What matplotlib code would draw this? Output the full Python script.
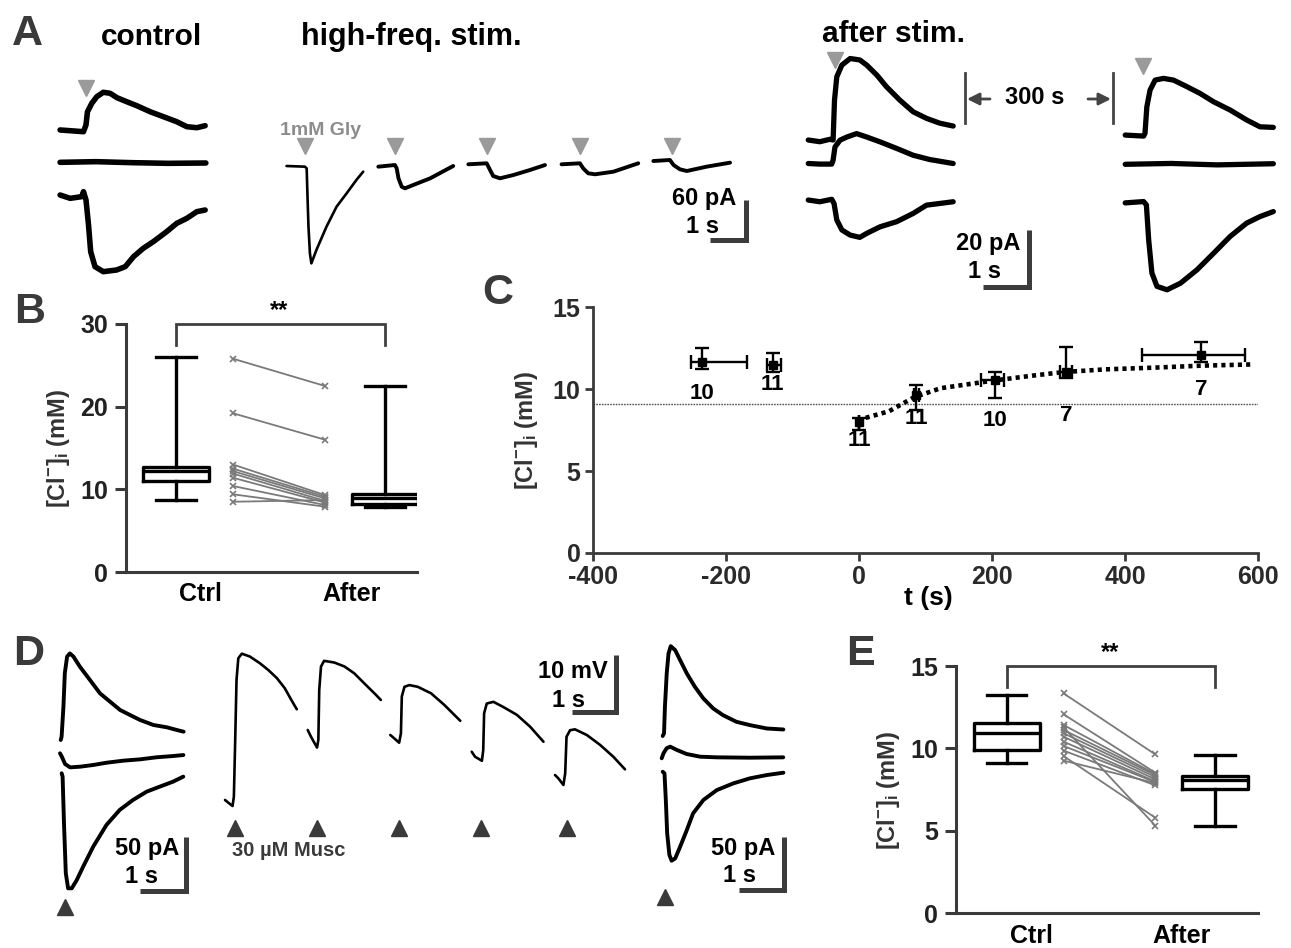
import numpy as np
import matplotlib
matplotlib.use("Agg")
import matplotlib.pyplot as plt
from matplotlib.transforms import Affine2D

W, H = 1291, 948
plt.rcParams['font.family'] = ['Liberation Sans', 'DejaVu Sans']
plt.rcParams['font.weight'] = 'bold'
plt.rcParams['mathtext.fontset'] = 'custom'
plt.rcParams['mathtext.rm'] = 'Liberation Sans:bold'
plt.rcParams['mathtext.bf'] = 'Liberation Sans:bold'
plt.rcParams['mathtext.default'] = 'rm'
plt.rcParams['axes.unicode_minus'] = False
NARROW = ['Liberation Sans Narrow', 'Liberation Sans', 'DejaVu Sans']

# ======================= DATA =======================
# ---- Panel A: control (t in s, I in pA relative to baseline)
ctl_top_t = [0, 0.65, 0.72, 0.76, 0.88, 1.02, 1.2, 1.39, 1.58, 1.85, 2.13, 2.5, 2.87, 3.24, 3.52, 3.8, 4.03]
ctl_top_i = [0.8, -1.8, 8.3, 28, 40.7, 50.7, 57.3, 55.8, 49.2, 43.2, 37.2, 28.2, 20.7, 13.2, 5.7, 4.2, 7.2]
ctl_mid_t = [0, 1.0, 2.0, 3.0, 4.05]
ctl_mid_i = [0, 1.0, -0.5, -1.5, -1.0]
ctl_bot_t = [0, 0.28, 0.6, 0.65, 0.72, 0.79, 0.85, 0.97, 1.2, 1.57, 1.81, 2.04, 2.31, 2.59, 2.96, 3.24, 3.52, 3.8, 4.03]
ctl_bot_i = [1.5, -3.5, -1, 6.5, -6, -43.5, -83.5, -106, -113.5, -111, -106, -91, -78.5, -68.5, -53.5, -41, -33.5, -23.5, -21]
ctl_stim = 0.71

# ---- Panel A: high-frequency glycine stimulation (5 sweeps)
hf_t = [[0, 0.51, 0.56, 0.58, 0.61, 0.65, 0.69, 0.83, 1.11, 1.39, 1.67, 1.94, 2.13],
        [0, 0.46, 0.51, 0.56, 0.65, 0.74, 0.97, 1.44, 2.08],
        [0, 0.51, 0.58, 0.69, 0.88, 1.25, 1.71, 2.13],
        [0, 0.51, 0.6, 0.74, 0.93, 1.44, 2.13],
        [0, 0.46, 0.56, 0.74, 0.93, 1.48, 2.13]]
hf_i = [[0, -1, -3.5, -41, -91, -131, -146, -126, -91, -61, -41, -21, -8.5],
        [-1, 1.5, -3.5, -18.5, -31, -33.5, -28.5, -18.5, 0],
        [0.3, 1.8, -5.7, -17.3, -20.7, -15.8, -8.3, -0.8],
        [0.3, 1.8, -5.7, -13.2, -14.7, -10.8, 1.8],
        [0, 1.5, -6, -12.5, -15, -8.5, -2.5]]
hf_stim = [0.51, 0.47, 0.52, 0.52, 0.51]

# ---- Panel A: after stimulation (pA)
aft1_top_t = [0, 0.25, 0.47, 0.54, 0.57, 0.62, 0.73, 0.91, 1.12, 1.27, 1.49, 1.7, 1.99, 2.28, 2.57, 2.86, 3.15]
aft1_top_i = [0, -0.6, 0.25, 0, 14, 22.2, 26.3, 28.6, 28.1, 26.3, 22.8, 18.7, 14, 9.9, 7.6, 5.9, 4.9]
aft1_mid_t = [0, 0.25, 0.51, 0.54, 0.58, 0.69, 0.84, 1.05, 1.27, 1.56, 1.92, 2.28, 2.64, 3.15]
aft1_mid_i = [0, -0.2, -0.2, 1.2, 5.8, 8.2, 9.3, 10.5, 9.3, 7.6, 5.3, 2.9, 1.4, 0]
aft1_bot_t = [0, 0.25, 0.51, 0.56, 0.62, 0.73, 0.91, 1.12, 1.27, 1.56, 1.92, 2.28, 2.57, 2.86, 3.15]
aft1_bot_i = [0, -0.6, 0.25, -1.2, -7, -10.5, -12.3, -13.1, -11.7, -9.4, -7.6, -4.7, -1.8, -1.2, -0.6]
aft2_top_t = [0, 0.4, 0.43, 0.47, 0.54, 0.65, 0.83, 1.05, 1.34, 1.63, 1.92, 2.28, 2.64, 2.93, 3.22]
aft2_top_i = [0, -0.35, 0.6, 9.9, 15.8, 19.3, 19.9, 19.3, 17.0, 14.6, 11.7, 8.8, 5.3, 2.9, 2.7]
aft2_mid_t = [0, 1.0, 2.0, 3.22]
aft2_mid_i = [0, 0.3, -0.2, 0.2]
aft2_bot_t = [0, 0.4, 0.46, 0.51, 0.58, 0.69, 0.91, 1.2, 1.56, 1.92, 2.28, 2.64, 2.93, 3.22]
aft2_bot_i = [0, 0.46, -0.7, -13, -24.6, -29.3, -30.5, -28.2, -23.5, -17.7, -11.8, -7.1, -4.8, -3.05]
aft_stim = [0.57, 0.38]

# ---- Panel B: [Cl-]i (mM)
B_stats = [dict(whislo=8.72, q1=10.98, med=12.27, q3=12.76, whishi=25.96),
           dict(whislo=7.83, q1=8.2, med=8.9, q3=9.4, whishi=22.5)]
B_ctrl_pts = [25.8, 19.2, 13.0, 12.5, 12.2, 11.9, 11.4, 10.4, 9.4, 8.5]
B_after_pts = [22.5, 16.0, 9.3, 9.1, 8.9, 8.6, 8.4, 8.1, 7.9, 8.7]
group_labels = ['Ctrl', 'After']

# ---- Panel C: time course
C_t = [-236, -130, 0, 86, 204, 311, 514]
C_y = [11.63, 11.47, 7.97, 9.65, 10.52, 11.06, 12.07]
C_ylow = [11.22, 11.02, 7.53, 8.74, 9.45, 10.66, 11.63]
C_yhigh = [12.52, 12.17, 8.24, 10.26, 11.02, 12.58, 12.88]
C_tlow = [-252, -139, 0, 82, 183, 302, 425]
C_thigh = [-168, -118, 0, 90, 218, 320, 580]
C_n = [10, 11, 11, 11, 10, 7, 7]
C_n_y = [9.75, 10.3, 6.86, 8.2, 8.08, 8.4, 10.0]
C_fit_t = [10, 45, 83, 123, 200, 258, 307, 371, 442, 513, 594]
C_fit_y = [8.24, 8.64, 9.5, 10.05, 10.5, 10.8, 11.03, 11.2, 11.3, 11.42, 11.5]
C_ref = 9.1

# ---- Panel D: muscimol (pA and mV)
dl_top_t = [0, 0.02, 0.06, 0.09, 0.14, 0.2, 0.28, 0.42, 0.64, 0.86, 1.08, 1.3, 1.52, 1.74, 2.03, 2.32, 2.54, 2.69]
dl_top_i = [0, 3.1, 30.9, 61.8, 77.2, 80.2, 77.2, 67.9, 55.6, 43.2, 35.5, 27.8, 23.1, 18.5, 13.9, 11.8, 9.3, 7.7]
dl_mid_t = [0, 0.04, 0.11, 0.22, 0.44, 0.73, 1.02, 1.39, 1.75, 2.11, 2.48, 2.7]
dl_mid_i = [0, -3.1, -9.9, -13, -12.4, -10.8, -8.7, -6.8, -5.6, -3.7, -2.5, -1.6]
dl_bot_t = [0, 0.02, 0.05, 0.09, 0.14, 0.22, 0.33, 0.47, 0.69, 0.98, 1.27, 1.56, 1.86, 2.15, 2.44, 2.66]
dl_bot_i = [0, -3.1, -46.3, -92.6, -106.5, -106.5, -98.8, -86.4, -67.9, -47.8, -33.9, -24.7, -17, -12.3, -7.7, -3.1]
dm_t = [[0, 0.075, 0.17, 0.2, 0.23, 0.26, 0.3, 0.38, 0.56, 0.79, 0.98, 1.17, 1.35, 1.5, 1.62],
        [0, 0.075, 0.21, 0.24, 0.26, 0.3, 0.37, 0.6, 0.83, 1.05, 1.28, 1.54, 1.65],
        [0, 0.09, 0.2, 0.24, 0.26, 0.32, 0.43, 0.62, 0.92, 1.22, 1.58],
        [0, 0.075, 0.23, 0.26, 0.28, 0.34, 0.49, 0.71, 1.02, 1.32, 1.62],
        [0, 0.075, 0.19, 0.23, 0.26, 0.34, 0.45, 0.72, 1.02, 1.32, 1.58]]
dm_v = [[0, -0.48, -1.06, 0.58, 10.6, 21.2, 25.0, 25.8, 25.3, 24.1, 22.9, 21.5, 19.7, 17.6, 16.0],
        [0, -1.2, -3.1, -1.76, 7.05, 11.2, 12.2, 11.9, 11.2, 10.0, 8.2, 6.2, 5.3],
        [0, -0.6, -1.36, 0.3, 6.8, 8.5, 8.8, 8.5, 7.35, 5.3, 2.5],
        [0, -0.88, -1.6, 0.3, 6.8, 8.5, 8.8, 7.9, 6.5, 4.4, 1.76],
        [0, -0.58, -1.76, 0.3, 6.75, 7.9, 8.06, 7.05, 5.3, 3.2, 1.0]]
dm_stim = [0.225, 0.216, 0.203, 0.21, 0.264]
dr_top_t = [0, 0.03, 0.05, 0.09, 0.13, 0.18, 0.28, 0.39, 0.54, 0.72, 0.91, 1.13, 1.35, 1.65, 1.95, 2.33, 2.7]
dr_top_i = [0, 2.5, 27.4, 58.6, 77.3, 84.2, 80.4, 71.1, 58.6, 46.1, 35.2, 25.8, 19.5, 13.3, 10.2, 7.03, 6.1]
dr_mid_t = [0, 0.04, 0.11, 0.19, 0.34, 0.56, 0.86, 1.23, 1.97, 2.72]
dr_mid_i = [0, 4.7, 9.4, 10.9, 7.8, 4.0, 1.5, 0.9, 0.56, 0.9]
dr_bot_t = [0, 0.04, 0.07, 0.1, 0.15, 0.2, 0.28, 0.39, 0.54, 0.68, 0.91, 1.21, 1.58, 1.95, 2.33, 2.7]
dr_bot_i = [0, -1.5, -26.5, -57.7, -78, -83.4, -81.2, -70.3, -54.6, -39, -26.5, -17.2, -10.9, -6.2, -3.1, -0.9]
d_stim = [0.07, 0.05]

# ---- Panel E: [Cl-]i (mM)
E_stats = [dict(whislo=9.14, q1=9.9, med=10.96, q3=11.56, whishi=13.24),
           dict(whislo=5.3, q1=7.56, med=8.09, q3=8.35, whishi=9.6)]
E_ctrl_pts = [13.34, 12.07, 11.42, 11.28, 11.12, 10.92, 10.71, 10.41, 10.15, 9.87, 9.54, 9.26]
E_after_pts = [9.64, 8.53, 8.45, 5.32, 8.39, 8.27, 8.13, 8.0, 7.96, 7.76, 5.8, 7.9]

# ======================= FIGURE =======================
fig = plt.figure(figsize=(W / 100, H / 100), dpi=100)
PIX = Affine2D().scale(1.0 / W, -1.0 / H).translate(0, 1) + fig.transFigure
SB = '#3c3c3c'
GRAYTRI = '#9a9a9a'
DARK = '#3a3a3a'


def rect(l, t, r, b):
    return [l / W, 1 - b / H, (r - l) / W, (b - t) / H]


def ftext(x, y, s, **kw):
    return fig.text(x, y, s, transform=PIX, **kw)


def trace_axes(l, t, r, b, pxx, pxy, zero):
    ax = fig.add_axes(rect(l, t, r, b))
    ax.set_xlim(0, (r - l) / pxx)
    ax.set_ylim(-(b - zero) / pxy, (zero - t) / pxy)
    ax.set_axis_off()
    return ax


def trace(ax, t, y, t0, y0, lw):
    ax.plot(np.asarray(t) + t0, np.asarray(y) + y0, color='k', lw=lw,
            solid_joinstyle='round', solid_capstyle='round', clip_on=False)


def scalebar(ax, x, y, dx, dy, lw=3.6):
    ax.plot([x - dx, x, x], [y, y, y + dy], color=SB, lw=lw,
            solid_joinstyle='miter', solid_capstyle='butt', clip_on=False)


# ---------- Panel A, left group (control + high-freq) ----------
aA = trace_axes(50, 80, 760, 290, 36.0, 1 / 1.5, 165)
c0 = 0.28
trace(aA, ctl_top_t, ctl_top_i, c0, 51.75, 4.0)
trace(aA, ctl_mid_t, ctl_mid_i, c0, 4.0, 4.0)
trace(aA, ctl_bot_t, ctl_bot_i, c0, -46.5, 4.0)
aA.plot([c0 + ctl_stim], [116], marker='v', ms=11, color=GRAYTRI, ls='none', clip_on=False)
hf_start = [6.57, 9.12, 11.62, 14.21, 16.76]
hf_off = [-1.5, -1.5, 0.75, 0.75, 6.0]
for k in range(5):
    trace(aA, hf_t[k], hf_i[k], hf_start[k], hf_off[k], 1.9 if k == 0 else 2.8)
    aA.plot([hf_start[k] + hf_stim[k]], [29], marker='v', ms=11, color=GRAYTRI,
            ls='none', clip_on=False)
scalebar(aA, 19.33, -112.5, 1.0, 60.0)
ftext(361, 135, '1mM Gly', ha='right', va='baseline', fontsize=14, color='#8c8c8c')
ftext(736, 205, '60 pA', ha='right', va='baseline', fontsize=17)
ftext(719, 233, '1 s', ha='right', va='baseline', fontsize=17)

# ---------- Panel A, after stimulation ----------
aA2 = trace_axes(800, 40, 1285, 300, 46.0, 1 / 0.351, 163)
s1, s2 = 0.18, 7.07
trace(aA2, aft1_top_t, aft1_top_i, s1, 8.07, 3.8)
trace(aA2, aft1_mid_t, aft1_mid_i, s1, -0.18, 3.8)
trace(aA2, aft1_bot_t, aft1_bot_i, s1, -13.0, 3.8)
trace(aA2, aft2_top_t, aft2_top_i, s2, 9.8, 3.8)
trace(aA2, aft2_mid_t, aft2_mid_i, s2, -0.46, 3.8)
trace(aA2, aft2_bot_t, aft2_bot_i, s2, -14.0, 3.8)
aA2.plot([s1 + aft_stim[0], s2 + aft_stim[1]], [36.3, 34.0], marker='v', ms=11,
         color=GRAYTRI, ls='none', clip_on=False)
scalebar(aA2, 4.978, -43.5, 1.0, 20.0)
ftext(1020, 250, '20 pA', ha='right', va='baseline', fontsize=17)
ftext(1001, 278, '1 s', ha='right', va='baseline', fontsize=17)
# 300 s interval marker
for xv in (965, 1113):
    fig.add_artist(plt.Line2D([xv / W, xv / W], [1 - 73 / H, 1 - 123 / H], color='#444444', lw=2))
fig.add_artist(matplotlib.patches.FancyArrowPatch((990 / W, 1 - 99 / H), (967 / W, 1 - 99 / H),
               arrowstyle='-|>', mutation_scale=18, color='#444444', lw=2,
               transform=fig.transFigure, shrinkA=0, shrinkB=0))
fig.add_artist(matplotlib.patches.FancyArrowPatch((1088 / W, 1 - 99 / H), (1111 / W, 1 - 99 / H),
               arrowstyle='-|>', mutation_scale=18, color='#444444', lw=2,
               transform=fig.transFigure, shrinkA=0, shrinkB=0))
ftext(1035, 104, '300 s', ha='center', va='baseline', fontsize=17)

# titles and panel letters
ftext(151, 45, 'control', ha='center', va='baseline', fontsize=21.5)
ftext(411, 45, 'high-freq. stim.', ha='center', va='baseline', fontsize=22)
ftext(894, 42, 'after stim.', ha='center', va='baseline', fontsize=21.5)
for lab, x, y in [('A', 27, 45), ('B', 30, 323), ('C', 498, 304), ('D', 29, 665), ('E', 860, 665)]:
    ftext(x, y, lab, ha='center', va='baseline', fontsize=31, color=DARK)

YLAB = r'[Cl$^{-}$]$_{\mathrm{i}}$ (mM)'


# ---------- Panels B and E ----------
def stat_panel(l, t, r, b, xlim, ylim, yticks, stats, cpts, apts, br_low, star_y):
    ax = fig.add_axes(rect(l, t, r, b))
    ax.patch.set_visible(False)
    ax.bxp(stats, positions=[0, 1], widths=0.316, capwidths=[0.19, 0.19], showfliers=False,
           boxprops=dict(color='k', lw=2.4), whiskerprops=dict(color='k', lw=2.4),
           capprops=dict(color='k', lw=2.4), medianprops=dict(color='k', lw=2.4),
           manage_ticks=False)
    for c, a in zip(cpts, apts):
        ax.plot([0.273, 0.713], [c, a], color='#7a7a7a', lw=1.3, marker='x', ms=5, mew=1.2)
    ax.plot([0, 0, 1, 1], [br_low, ylim[1], ylim[1], br_low], color='#404040', lw=2.0,
            clip_on=False, solid_joinstyle='miter')
    ax.text(0.495, star_y, '**', ha='center', va='center', fontsize=17)
    ax.set_xlim(*xlim)
    ax.set_ylim(*ylim)
    for s in ('top', 'right'):
        ax.spines[s].set_visible(False)
    for s in ('left', 'bottom'):
        ax.spines[s].set_linewidth(2.2)
        ax.spines[s].set_color(DARK)
    ax.set_xticks([])
    ax.set_yticks(yticks)
    ax.tick_params(axis='y', length=8, width=2.2, color=DARK, pad=5, labelsize=18,
                   labelcolor='#222222')
    for lab in ax.get_yticklabels():
        lab.set_fontweight('bold')
    return ax


axB = stat_panel(126, 324, 417, 572, (-0.239, 1.153), (0, 30), [0, 10, 20, 30],
                 B_stats, B_ctrl_pts, B_after_pts, 27.45, 31.6)
ftext(200, 601, group_labels[0], ha='center', va='baseline', fontsize=18)
ftext(352, 601, group_labels[1], ha='center', va='baseline', fontsize=18)
ftext(59, 448, YLAB, ha='center', va='center', rotation=90, fontsize=17, color='#333333')

axE = stat_panel(956, 666, 1258, 913.3, (-0.243, 1.206), (0, 15), [0, 5, 10, 15],
                 E_stats, E_ctrl_pts, E_after_pts, 13.7, 15.8)
ftext(1031, 943, group_labels[0], ha='center', va='baseline', fontsize=18)
ftext(1182, 943, group_labels[1], ha='center', va='baseline', fontsize=18)
ftext(889, 790, YLAB, ha='center', va='center', rotation=90, fontsize=17, color='#333333')

# ---------- Panel C ----------
axC = fig.add_axes(rect(593, 307, 1258, 553))
axC.patch.set_visible(False)
axC.axhline(C_ref, color='#555555', lw=1.0, ls=(0, (1.2, 0.8)))
axC.plot(C_fit_t, C_fit_y, color='k', lw=3.3, ls=(0, (0.9, 0.9)))
Ct = np.array(C_t, float)
Cy = np.array(C_y, float)
axC.errorbar(Ct, Cy, yerr=[Cy - np.array(C_ylow), np.array(C_yhigh) - Cy],
             xerr=[Ct - np.array(C_tlow), np.array(C_thigh) - Ct],
             fmt='s', color='k', ms=5.5, capsize=5, elinewidth=1.7, capthick=1.7)
for t, yy, n in zip(C_t, C_n_y, C_n):
    axC.text(t, yy, str(n), ha='center', va='center', fontsize=16, family=NARROW)
axC.set_xlim(-400, 600)
axC.set_ylim(0, 15)
axC.set_xticks([-400, -200, 0, 200, 400, 600])
axC.set_yticks([0, 5, 10, 15])
for s in ('top', 'right'):
    axC.spines[s].set_visible(False)
for s in ('left', 'bottom'):
    axC.spines[s].set_linewidth(2.0)
    axC.spines[s].set_color(DARK)
axC.tick_params(length=6, width=2.0, color=DARK, pad=3, labelsize=18, labelcolor='#2a2a2a')
for lab in axC.get_xticklabels() + axC.get_yticklabels():
    lab.set_family(NARROW)
    lab.set_fontweight('bold')
ftext(928, 598, 't (s)', ha='center', va='center', fontsize=19, family=NARROW)
ftext(527, 430, YLAB, ha='center', va='center', rotation=90, fontsize=17, color='#333333')

# ---------- Panel D ----------
aDL = trace_axes(50, 640, 200, 920, 45.7, 1.08, 760)
trace(aDL, dl_top_t, dl_top_i, 0.234, 18.5, 2.8)
trace(aDL, dl_mid_t, dl_mid_i, 0.219, 6.2, 2.8)
trace(aDL, dl_bot_t, dl_bot_i, 0.256, -12.3, 2.8)
aDL.plot([0.256 + d_stim[0]], [-135.8], marker='^', ms=11.5, color=DARK, ls='none', clip_on=False)
scalebar(aDL, 2.97, -121.0, 1.0, 50.0)
ftext(179, 855, '50 pA', ha='right', va='baseline', fontsize=17)
ftext(158, 883, '1 s', ha='right', va='baseline', fontsize=17)

aDM = trace_axes(215, 640, 640, 870, 44.3, 5.67, 760)
dm_start = [0.226, 2.093, 3.957, 5.795, 7.675]
dm_off = [-7.05, 5.29, 4.41, 1.46, -2.65]
for k in range(5):
    trace(aDM, dm_t[k], dm_v[k], dm_start[k], dm_off[k], 1.9)
    aDM.plot([dm_start[k] + dm_stim[k]], [-12.05], marker='^', ms=11.5, color=DARK,
             ls='none', clip_on=False)
scalebar(aDM, 9.05, 8.52, 1.0, 10.0)
ftext(608, 678, '10 mV', ha='right', va='baseline', fontsize=17)
ftext(585, 707, '1 s', ha='right', va='baseline', fontsize=17)
ftext(232, 856, '30 µM Musc', ha='left', va='baseline', fontsize=14.5, color=DARK)

aDR = trace_axes(650, 640, 800, 920, 44.7, 1.067, 760)
trace(aDR, dr_top_t, dr_top_i, 0.284, 22.5, 2.8)
trace(aDR, dr_mid_t, dr_mid_i, 0.262, 1.6, 2.8)
trace(aDR, dr_bot_t, dr_bot_i, 0.284, -11.0, 2.8)
aDR.plot([0.284 + d_stim[1]], [-128.1], marker='^', ms=11.5, color=DARK, ls='none', clip_on=False)
scalebar(aDR, 3.0, -121.8, 1.0, 50.0)
ftext(775, 855, '50 pA', ha='right', va='baseline', fontsize=17)
ftext(756, 882, '1 s', ha='right', va='baseline', fontsize=17)

fig.savefig('out.png', dpi=100, facecolor='white')
